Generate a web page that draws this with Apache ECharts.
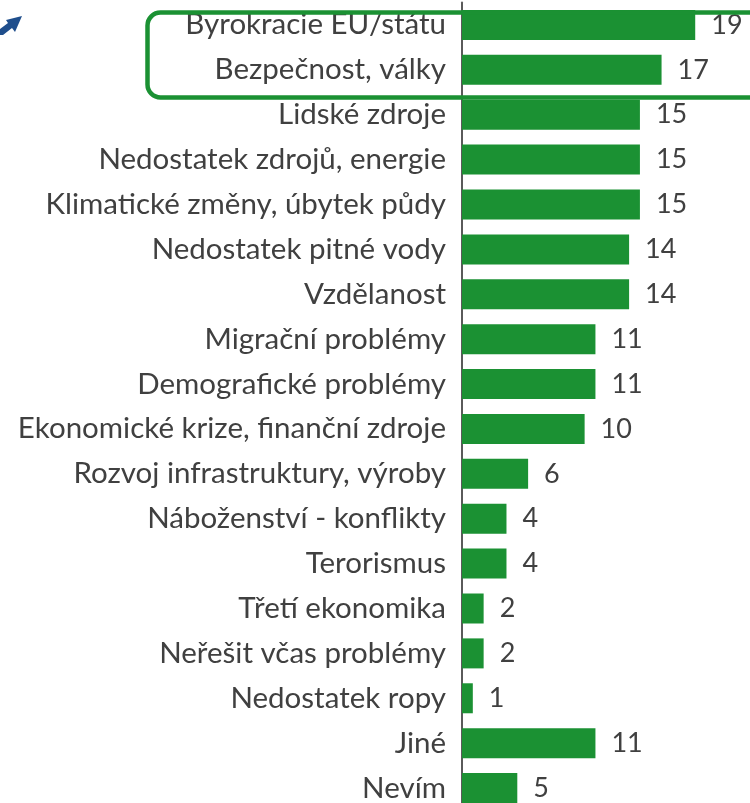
<!DOCTYPE html>
<html>
<head>
<meta charset="utf-8">
<script src="https://cdn.jsdelivr.net/npm/echarts@6/dist/echarts.min.js"></script>
<style>
html, body { margin: 0; padding: 0; background: #fff; }
#tubiao { width: 750px; height: 803px; }
</style>
</head>
<body>
<div id="tubiao"></div>
<script>
// kategorie shora dolu
var categories = [
	'Byrokracie EU/státu',
	'Bezpečnost, války',
	'Lidské zdroje',
	'Nedostatek zdrojů, energie',
	'Klimatické změny, úbytek půdy',
	'Nedostatek pitné vody',
	'Vzdělanost',
	'Migrační problémy',
	'Demografické problémy',
	'Ekonomické krize, finanční zdroje',
	'Rozvoj infrastruktury, výroby',
	'Náboženství - konflikty',
	'Terorismus',
	'Třetí ekonomika',
	'Neřešit včas problémy',
	'Nedostatek ropy',
	'Jiné',
	'Nevím'
];
// odhad delky sloupcu (popisky jsou zaokrouhlene)
var values = [19.4, 16.6, 14.8, 14.8, 14.8, 13.9, 13.9, 11.1, 11.1, 10.2, 5.5, 3.7, 3.7, 1.8, 1.8, 0.9, 11.1, 4.6];

var green = '#1b9133';
var textColor = '#404040';

var myChart = echarts.init(document.getElementById('tubiao'));
var option = {
	animation: false,
	grid: {
		left: 462,
		top: 2.5,
		width: 276.5,
		height: 808,
		outerBoundsMode: 'none',
		containLabel: false
	},
	xAxis: {
		type: 'value',
		min: 0,
		max: 23,
		show: false
	},
	yAxis: {
		type: 'category',
		inverse: true,
		data: categories,
		axisLine: { show: true, lineStyle: { color: '#5a5a5a', width: 2 } },
		axisTick: { show: false },
		axisLabel: {
			margin: 16,
			color: textColor,
			fontFamily: 'Lato',
			fontSize: 29.5,
			padding: [4, 0, 0, 0]
		}
	},
	series: [
		{
			type: 'bar',
			data: values,
			barWidth: 30,
			itemStyle: { color: green },
			label: {
				show: true,
				position: 'right',
				distance: 16,
				color: textColor,
				fontFamily: 'Lato',
				fontSize: 27,
				padding: [5, 0, 0, 0],
				formatter: function (p) { return Math.round(p.value); }
			}
		}
	],
	graphic: [
		{
			type: 'rect',
			left: 145,
			top: 10,
			shape: { width: 625, height: 85, r: 13 },
			style: { fill: 'none', stroke: green, lineWidth: 4.5 },
			z: 10
		},
		{
			type: 'polygon',
			shape: { points: [[0, 29], [8, 23], [6, 20], [22, 16], [15, 32], [12, 28], [3, 35], [0, 35]] },
			style: { fill: '#1f4e8c' },
			z: 10
		}
	]
};
myChart.setOption(option);
</script>
</body>
</html>
